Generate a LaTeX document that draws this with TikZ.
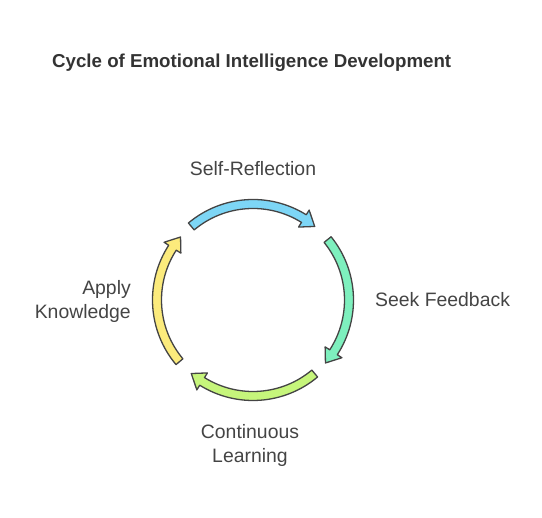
\documentclass[tikz,border=0pt]{standalone}
\usepackage{fontspec}
\setmainfont{Liberation Sans}
\usepackage{xcolor}
\usetikzlibrary{positioning}
\definecolor{cycblue}{HTML}{7DD6F6}
\definecolor{cycgreen}{HTML}{7EF0BE}
\definecolor{cyclime}{HTML}{C6F57B}
\definecolor{cycyellow}{HTML}{FCEB7C}
\definecolor{cycline}{HTML}{444444}
\definecolor{cyctext}{HTML}{444444}
\definecolor{cyctitle}{HTML}{333333}
\tikzset{
  x=1pt, y=1pt,
  % bande delle frecce
  arrowband/.style={draw=cycline, line width=1.3pt, line join=round},
  % etichette
  steplabel/.style={text=cyctext, font=\fontsize{19.4}{24}\selectfont, inner sep=0pt, align=center},
  titlelabel/.style={text=cyctitle, font=\fontsize{18.7}{20}\selectfont\bfseries, inner sep=0pt}
}
% freccia lungo il cerchio: angolo iniziale, angolo della punta, colore
\newcommand{\cyclearrow}[3]{%
  \filldraw[arrowband, fill=#3]
    (#1:100.5pt) arc[start angle=#1, end angle=#2+8, radius=100.5pt]
    -- (#2+8:106pt) -- (#2:96pt) -- (#2+8:86pt) -- (#2+8:91.5pt)
    arc[start angle=#2+8, end angle=#1, radius=91.5pt] -- cycle;
}
\begin{document}
\begin{tikzpicture}
  \useasboundingbox (-253,-218) rectangle (289,300);
  \node[titlelabel, anchor=west] (title) at (-201,237) {Cycle of Emotional Intelligence Development};
  % frecce del ciclo
  \cyclearrow{130}{50}{cycblue}
  \cyclearrow{39}{-41}{cycgreen}
  \cyclearrow{-50}{-130}{cyclime}
  \cyclearrow{-140}{-221}{cycyellow}
  % etichette dei passi
  \node[steplabel] (reflect) at (0,131) {Self-Reflection};
  \node[steplabel, anchor=west] (feedback) at (122,0) {Seek Feedback};
  \node[steplabel] (learn) at (-3,-145) {Continuous\\Learning};
  \node[steplabel, anchor=east, align=right] (apply) at (-122,-1) {Apply\\Knowledge};
\end{tikzpicture}
\end{document}
